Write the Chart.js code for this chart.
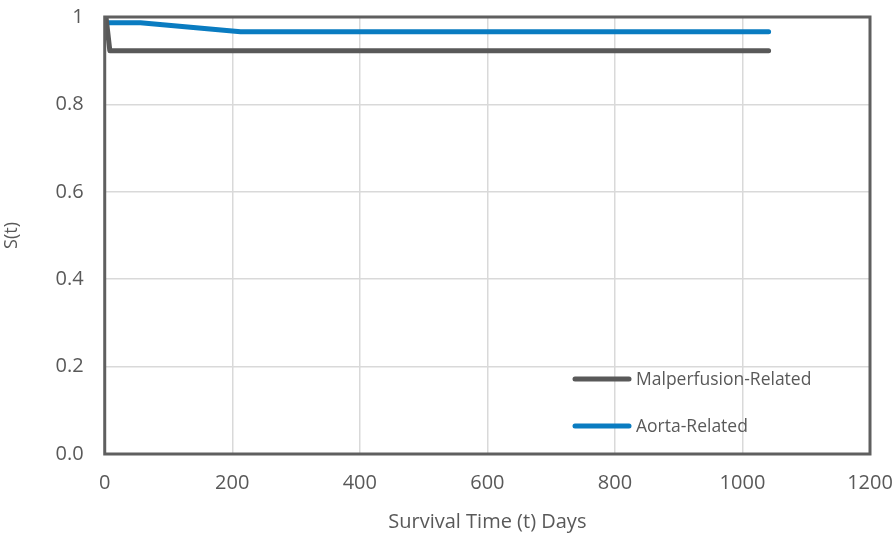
<!DOCTYPE html>
<html>
<head>
<meta charset="utf-8">
<script src="https://cdn.jsdelivr.net/npm/chart.js@4/dist/chart.umd.min.js"></script>
<style>
  html, body { margin: 0; padding: 0; background: #fff; }
  #wrap { width: 895px; height: 535px; position: relative; }
</style>
</head>
<body>
<div id="wrap"><canvas id="survChart"></canvas></div>
<script>
// survival curves (days, S(t))
const malperfusionT = [2, 8, 1041];
const malperfusionS = [1, 0.923, 0.923];
const aortaT = [3, 56, 213, 1041];
const aortaS = [0.987, 0.987, 0.966, 0.966];
const seriesNames = ['Malperfusion-Related', 'Aorta-Related'];
const seriesColors = ['#595959', '#0a7cc1'];
const xTicks = [0, 200, 400, 600, 800, 1000, 1200];
const yTicks = [0, 0.2, 0.4, 0.6, 0.8, 1];

const toPts = (xs, ys) => xs.map((x, i) => ({ x, y: ys[i] }));
const textCol = '#595959';
const font = '"Open Sans", Lato, sans-serif';

// frame round the plot area + legend in lower right corner
const framePlugin = {
  id: 'frame',
  afterDatasetsDraw(chart) {
    const { ctx, chartArea: a } = chart;
    ctx.save();
    ctx.strokeStyle = '#5f5f5f';
    ctx.lineWidth = 3;
    ctx.strokeRect(a.left, a.top, a.right - a.left, a.bottom - a.top);

    ctx.font = '17.5px ' + font;
    ctx.textBaseline = 'middle';
    ctx.lineCap = 'round';
    const rows = [379, 426];
    chart.data.datasets.forEach((ds, i) => {
      ctx.strokeStyle = ds.borderColor;
      ctx.lineWidth = 5;
      ctx.beginPath();
      ctx.moveTo(575, rows[i]);
      ctx.lineTo(629, rows[i]);
      ctx.stroke();
      ctx.fillStyle = textCol;
      ctx.fillText(ds.label, 636, rows[i] + 1);
    });
    ctx.restore();
  }
};

new Chart(document.getElementById('survChart'), {
  type: 'line',
  data: {
    datasets: [
      { label: seriesNames[0], data: toPts(malperfusionT, malperfusionS), borderColor: seriesColors[0], borderWidth: 5, pointRadius: 0, borderCapStyle: 'round', borderJoinStyle: 'round', tension: 0 },
      { label: seriesNames[1], data: toPts(aortaT, aortaS), borderColor: seriesColors[1], borderWidth: 5, pointRadius: 0, borderCapStyle: 'round', borderJoinStyle: 'round', tension: 0 },
    ],
  },
  options: {
    responsive: true,
    maintainAspectRatio: false,
    animation: false,
    layout: { padding: { top: 17, right: 25, left: 1, bottom: 0 } },
    plugins: { legend: { display: false }, tooltip: { enabled: false } },
    scales: {
      x: {
        type: 'linear',
        min: 0, max: 1200,
        afterBuildTicks: (axis) => { axis.ticks = xTicks.map(v => ({ value: v })); },
        afterFit: (s) => { s.paddingLeft = 0; s.paddingRight = 0; },
        ticks: { color: textCol, font: { family: font, size: 20 }, padding: 17, maxRotation: 0, callback: (v) => String(v) },
        grid: { color: '#d9d9d9', lineWidth: 1.5, drawTicks: false },
        border: { display: false },
        title: { display: true, text: 'Survival Time (t) Days', color: textCol, font: { family: font, size: 20, lineHeight: 1 }, padding: { top: 0, bottom: 3 } },
      },
      y: {
        min: 0, max: 1,
        afterBuildTicks: (axis) => { axis.ticks = yTicks.map(v => ({ value: v })); },
        afterFit: (s) => { s.paddingTop = 0; s.paddingBottom = 0; },
        ticks: { color: textCol, font: { family: font, size: 20 }, padding: 21, callback: (v) => v === 1 ? '1' : v.toFixed(1) },
        grid: { color: '#d9d9d9', lineWidth: 1.5, drawTicks: false },
        border: { display: false },
        title: { display: true, text: 'S(t)', color: textCol, font: { family: font, size: 18 }, padding: { top: 0, bottom: 12 } },
      },
    },
  },
  plugins: [framePlugin],
});
</script>
</body>
</html>
